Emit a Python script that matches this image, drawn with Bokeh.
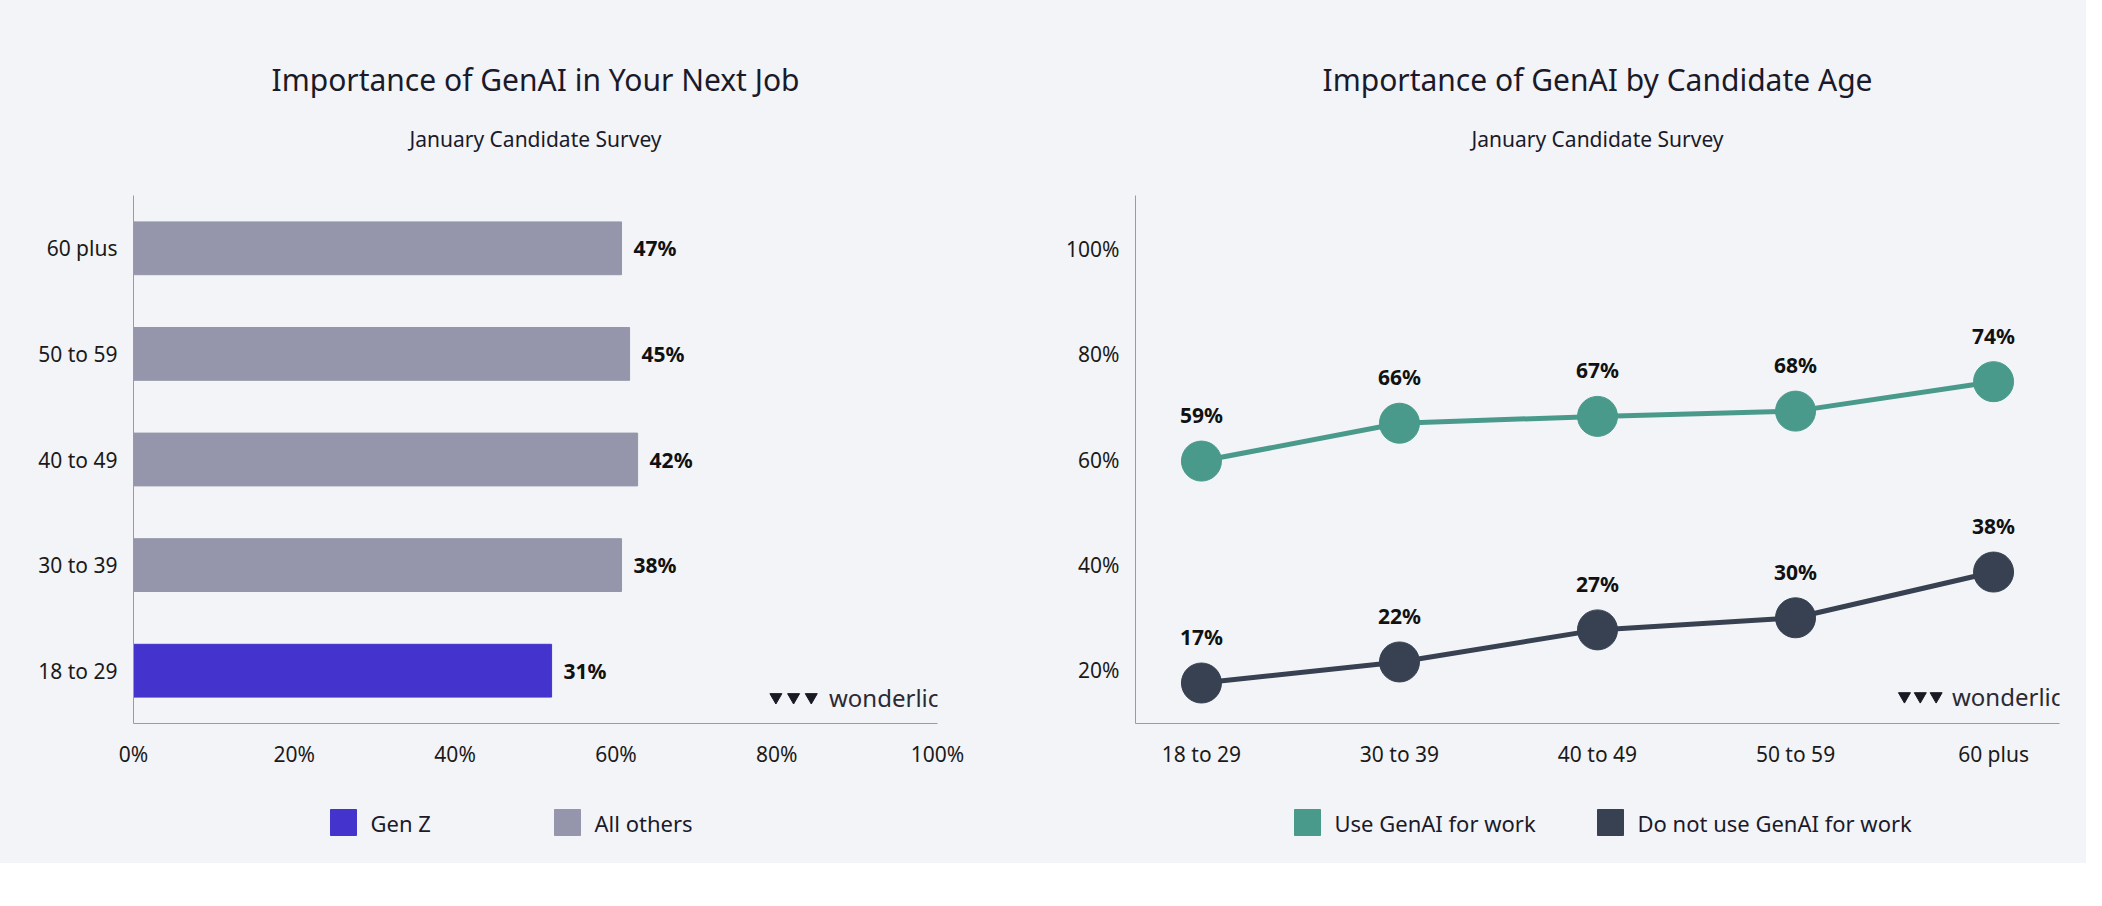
from bokeh.plotting import figure
from bokeh.models import Title, ColumnDataSource
from bokeh.layouts import row, column
from bokeh.embed import file_html
from bokeh.resources import INLINE
from bokeh.core.properties import value

BG = "#f3f4f7"
FONT = "Noto Sans"

# left chart data
age_groups = ["18 to 29", "30 to 39", "40 to 49", "50 to 59", "60 plus"]
bar_lengths = [52, 60.7, 62.7, 61.7, 60.7]
bar_labels = ["31%", "38%", "42%", "45%", "47%"]
bar_groups = ["Gen Z", "All others", "All others", "All others", "All others"]
x_ticks = [0, 20, 40, 60, 80, 100]

# right chart data
use_vals = [59.7, 66.9, 68.2, 69.2, 74.8]
use_labels = ["59%", "66%", "67%", "68%", "74%"]
not_vals = [17.5, 21.5, 27.6, 29.9, 38.6]
not_labels = ["17%", "22%", "27%", "30%", "38%"]
y_ticks = [20, 40, 60, 80, 100]

legend_left = ["Gen Z", "All others"]
legend_right = ["Use GenAI for work", "Do not use GenAI for work"]

C_GENZ = "#4433cc"
C_OTHER = "#9596ab"
C_USE = "#4a9a8c"
C_NOT = "#374151"


def style(p):
    p.background_fill_color = BG
    p.border_fill_color = BG
    p.outline_line_color = None
    p.grid.grid_line_color = None
    for ax in p.axis:
        ax.axis_line_color = "#9a9aa5"
        ax.major_tick_line_color = None
        ax.minor_tick_line_color = None
        ax.major_label_text_font = FONT
        ax.major_label_text_font_size = "21px"
        ax.major_label_text_color = "#1a1a1a"
        ax.major_label_standoff = 10


def titles(p, t, s, off):
    p.add_layout(Title(text=" ", text_font_size="20px", standoff=0), "above")
    p.add_layout(Title(text=s, align="center", offset=off, text_font=FONT, text_font_size="21px",
                       text_font_style="normal", text_color="#1a1a2a", standoff=37), "above")
    p.add_layout(Title(text=t, align="center", offset=off, text_font=FONT, text_font_size="30px",
                       text_font_style="normal", text_color="#1a1a2a"), "above")
    p.add_layout(Title(text=" ", text_font_size="44px", standoff=0), "above")


def logo(p, x, y, dx):
    p.text([x], [y], text=["wonderlic"], text_font=value(FONT), text_font_size="24px",
           text_color="#2a2a35", text_baseline="middle")
    p.scatter([x - dx * 3, x - dx * 2, x - dx], [y] * 3, marker="inverted_triangle", size=12,
              color="#1a1a25")


def legend_fig(width, labels, colors, sq_x):
    f = figure(width=width, height=80, x_range=(0, width), y_range=(0, 80),
               output_backend="svg", toolbar_location=None, x_axis_type=None, y_axis_type=None,
               min_border=0)
    f.background_fill_color = BG
    f.border_fill_color = BG
    f.outline_line_color = None
    f.grid.grid_line_color = None
    f.scatter(sq_x, [41, 41], marker="square", size=26, color=colors)
    f.text([x + 27 for x in sq_x], [41, 41], text=labels, text_baseline="middle",
           text_font=value(FONT), text_font_size="22px", text_color="#1a1a2a")
    return f


# left
p1 = figure(frame_width=804, frame_height=528, x_range=(0, 100), y_range=(-0.5, 4.5),
            output_backend="svg", toolbar_location=None,
            min_border_left=133, min_border_right=71, min_border_top=10, min_border_bottom=60)
src = ColumnDataSource(dict(y=list(range(5)), r=bar_lengths, lab=bar_labels, g=bar_groups,
                            c=[C_GENZ if g == "Gen Z" else C_OTHER for g in bar_groups]))
p1.hbar(y="y", right="r", height=0.5, color="c", source=src)
p1.text(x="r", y="y", text="lab", source=src, x_offset=12, text_baseline="middle",
        text_font=value(FONT), text_font_size="21px", text_font_style="bold", text_color="#111")
p1.xaxis.ticker = x_ticks
p1.xaxis.major_label_overrides = {v: f"{v}%" for v in x_ticks}
p1.yaxis.ticker = list(range(5))
p1.yaxis.major_label_overrides = {i: a for i, a in enumerate(age_groups)}
style(p1)
logo(p1, 86.5, -0.25, 2.2)
titles(p1, "Importance of GenAI in Your Next Job", "January Candidate Survey", -73)

# right
p2 = figure(frame_width=924, frame_height=528, x_range=(-0.333, 4.333), y_range=(9.8, 110.2),
            output_backend="svg", toolbar_location=None,
            min_border_left=127, min_border_right=19, min_border_top=10, min_border_bottom=60)
xs = list(range(5))
for vals, labs, col, in [(use_vals, use_labels, C_USE), (not_vals, not_labels, C_NOT)]:
    s = ColumnDataSource(dict(x=xs, y=vals, lab=labs))
    p2.line("x", "y", source=s, line_color=col, line_width=5)
    p2.scatter("x", "y", source=s, size=40, color=col)
    p2.text(x="x", y="y", text="lab", source=s, y_offset=-46, text_align="center",
            text_baseline="middle", text_font=value(FONT), text_font_size="21px",
            text_font_style="bold", text_color="#111")
p2.xaxis.ticker = xs
p2.xaxis.major_label_overrides = {i: a for i, a in enumerate(age_groups)}
p2.yaxis.ticker = y_ticks
p2.yaxis.major_label_overrides = {v: f"{v}%" for v in y_ticks}
style(p2)
logo(p2, 3.79, 15, 0.08)
titles(p2, "Importance of GenAI by Candidate Age", "January Candidate Survey", -38)

l1 = legend_fig(1016, legend_left, [C_GENZ, C_OTHER], [343, 567])
l2 = legend_fig(1070, legend_right, [C_USE, C_NOT], [291, 594])

layout = column(row(p1, p2), row(l1, l2), styles={"background-color": BG})
open("out.html", "w").write(file_html(layout, INLINE))
